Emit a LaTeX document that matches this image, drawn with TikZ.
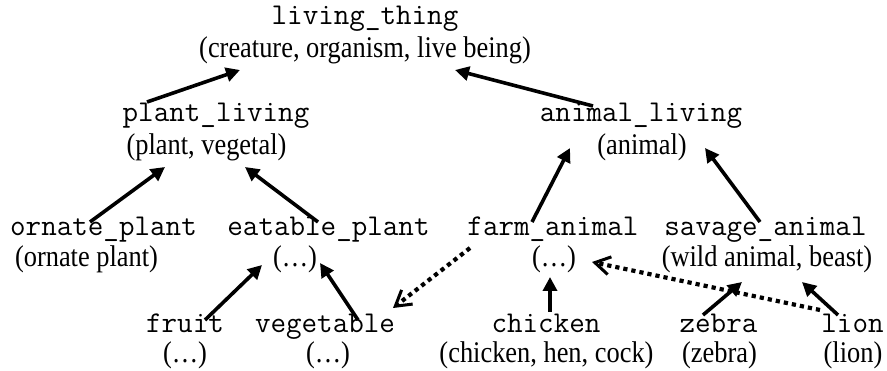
\documentclass[tikz,border=0pt]{standalone}
\usepackage{fontspec}
\setmainfont{Liberation Serif}[FakeStretch=0.88]
\usetikzlibrary{arrows.meta}
\tikzset{
  ident/.style={inner sep=0pt,anchor=base,font=\fontsize{30.2}{34}\selectfont\ttfamily},
  gloss/.style={inner sep=0pt,anchor=base,font=\fontsize{30}{34}\selectfont},
  isa/.style={line width=3.6pt,-{Triangle[length=14pt,width=14pt]}},
  seealso/.style={line width=4.2pt,dash pattern=on 4.2pt off 4pt,
    -{Straight Barb[length=15pt,width=18pt,line width=3pt]}}
}

\begin{document}
\begin{tikzpicture}[x=1pt,y=-1pt]
\useasboundingbox (0,0) rectangle (887,371);
% top
\node[ident] (living) at (365,25) {living\_thing};
\node[gloss] (living-g) at (365,58) {(creature, organism, live being)};
% second row
\node[ident] (plant) at (216,122) {plant\_living};
\node[gloss] (plant-g) at (206.5,155) {(plant, vegetal)};
\node[ident] (animal) at (641,122) {animal\_living};
\node[gloss] (animal-g) at (642,155) {(animal)};
% third row
\node[ident] (ornate) at (103.5,236) {ornate\_plant};
\node[gloss] (ornate-g) at (86.5,267) {(ornate plant)};
\node[ident] (eatable) at (328.5,236) {eatable\_plant};
\node[gloss] (eatable-g) at (295,267) {(…)};
\node[ident] (farm) at (553,236) {farm\_animal};
\node[gloss] (farm-g) at (554,267) {(…)};
\node[ident] (savage) at (765.5,236) {savage\_animal};
\node[gloss] (savage-g) at (767,267) {(wild animal, beast)};
% leaves
\node[ident] (fruit) at (185,333) {fruit};
\node[gloss] (fruit-g) at (185,363) {(…)};
\node[ident] (vegetable) at (325,333) {vegetable};
\node[gloss] (vegetable-g) at (328,363) {(…)};
\node[ident] (chicken) at (546,333) {chicken};
\node[gloss] (chicken-g) at (546.5,363) {(chicken, hen, cock)};
\node[ident] (zebra) at (718.5,333) {zebra};
\node[gloss] (zebra-g) at (719.5,363) {(zebra)};
\node[ident] (lion) at (852.5,333) {lion};
\node[gloss] (lion-g) at (853,363) {(lion)};
% is-a links
\draw[isa] ([xshift=-69pt,yshift=20pt]plant.base) -- ([xshift=-125pt,yshift=-12pt]living-g.base);
\draw[isa] ([xshift=-48pt,yshift=16pt]animal.base) -- ([xshift=90pt,yshift=-12pt]living-g.base);
\draw[isa] ([xshift=-13.5pt,yshift=14pt]ornate.base) -- ([xshift=-41.5pt,yshift=-12pt]plant-g.base);
\draw[isa] ([xshift=-10.5pt,yshift=14pt]eatable.base) -- ([xshift=38.5pt,yshift=-12pt]plant-g.base);
\draw[isa] ([xshift=-21pt,yshift=14pt]farm.base) -- ([xshift=-72pt,yshift=7pt]animal-g.base);
\draw[isa] ([xshift=-5.5pt,yshift=14pt]savage.base) -- ([xshift=63pt,yshift=7pt]animal-g.base);
\draw[isa] ([xshift=20pt,yshift=13pt]fruit.base) -- ([xshift=-33pt,yshift=2pt]eatable-g.base);
\draw[isa] ([xshift=33pt,yshift=13pt]vegetable.base) -- ([xshift=25pt,yshift=4pt]eatable-g.base);
\draw[isa] ([xshift=4pt,yshift=21pt]chicken.base) -- ([xshift=-4pt,yshift=-10pt]farm-g.base);
\draw[isa] ([xshift=-15.5pt,yshift=18pt]zebra.base) -- ([xshift=-25pt,yshift=-15pt]savage-g.base);
\draw[isa] ([xshift=-14.5pt,yshift=18pt]lion.base) -- ([xshift=35pt,yshift=-15pt]savage-g.base);
% dotted links
\draw[seealso] ([xshift=-83pt,yshift=-12pt]farm.base) -- ([xshift=68pt,yshift=25pt]vegetable.base);
\draw[seealso] ([xshift=-32.5pt,yshift=23pt]lion.base) -- ([xshift=38pt,yshift=5pt]farm-g.base);
\end{tikzpicture}
\end{document}
